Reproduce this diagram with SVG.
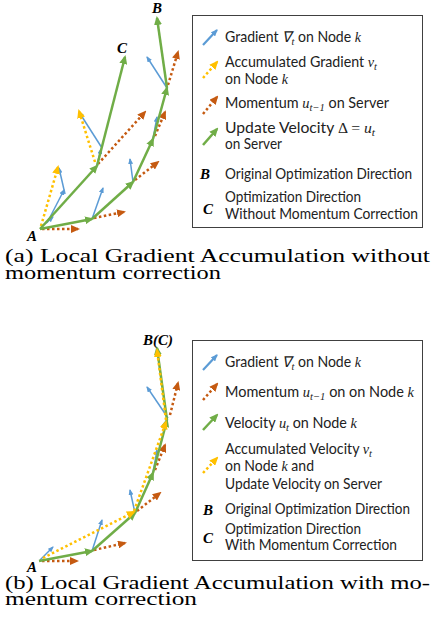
<svg xmlns="http://www.w3.org/2000/svg" width="434" height="635" viewBox="0 0 434 635">
<style>
.g{stroke:#70AD47;stroke-width:2.5;fill:none;marker-end:url(#mg)}
.o{stroke:#C55A11;stroke-width:2.5;fill:none;stroke-dasharray:2.5 2.5;marker-end:url(#mo)}
.y{stroke:#FFC000;stroke-width:2.5;fill:none;stroke-dasharray:2.5 2.5;marker-end:url(#my)}
.b{stroke:#5B9BD5;stroke-width:1.5;fill:none;marker-end:url(#mb)}
.bi{stroke:#5B9BD5;stroke-width:2.2;fill:none;marker-end:url(#mb2)}
.box{fill:#fff;stroke:#404040;stroke-width:1}
.lt{font-family:Lato,"Open Sans",sans-serif;font-size:15px;fill:#222}
.m{font-family:"Liberation Serif",serif;font-style:italic}
.mu{font-family:"Liberation Serif",serif}
.sub{font-family:"Liberation Serif",serif;font-style:italic;font-size:11px}
.pt{font-family:"Liberation Serif",serif;font-style:italic;font-weight:bold;font-size:15px;fill:#000}
.cap{font-family:"Liberation Serif",serif;font-size:18px;fill:#000}
</style>
<defs>
<marker id="mg" markerUnits="userSpaceOnUse" markerWidth="9" markerHeight="8" viewBox="0 0 9 8" refX="7" refY="4" orient="auto"><path d="M0,0 L9,4 L0,8 z" fill="#70AD47"/></marker>
<marker id="mo" markerUnits="userSpaceOnUse" markerWidth="9" markerHeight="8" viewBox="0 0 9 8" refX="7" refY="4" orient="auto"><path d="M0,0 L9,4 L0,8 z" fill="#C55A11"/></marker>
<marker id="my" markerUnits="userSpaceOnUse" markerWidth="9" markerHeight="8" viewBox="0 0 9 8" refX="7" refY="4" orient="auto"><path d="M0,0 L9,4 L0,8 z" fill="#FFC000"/></marker>
<marker id="mb" markerUnits="userSpaceOnUse" markerWidth="6" markerHeight="5" viewBox="0 0 6 5" refX="5" refY="2.5" orient="auto"><path d="M0,0 L6,2.5 L0,5 z" fill="#5B9BD5"/></marker>
<marker id="mb2" markerUnits="userSpaceOnUse" markerWidth="7" markerHeight="6" viewBox="0 0 7 6" refX="6" refY="3" orient="auto"><path d="M0,0 L7,3 L0,6 z" fill="#5B9BD5"/></marker>
</defs>
<rect width="434" height="635" fill="#fff"/>

<!-- ===== Diagram (a) ===== -->
<g id="connectors-a">
<line class="b" x1="45" y1="224" x2="53" y2="217"/>
<line class="b" x1="47" y1="223" x2="64" y2="190"/>
<line class="b" x1="65" y1="194" x2="59" y2="168"/>
<line class="b" x1="92" y1="219" x2="103" y2="188"/>
<line class="b" x1="97" y1="165" x2="101" y2="149"/>
<line class="b" x1="102" y1="148" x2="79" y2="112"/>
<line class="b" x1="133" y1="182" x2="130" y2="159"/>
<line class="b" x1="153" y1="139" x2="157" y2="117"/>
<line class="b" x1="167" y1="88" x2="147" y2="57"/>
<line class="y" x1="41" y1="226" x2="58" y2="167"/>
<line class="y" x1="95" y1="162" x2="79" y2="111"/>
<line class="o" x1="42" y1="229" x2="78" y2="229"/>
<line class="o" x1="94" y1="218" x2="124" y2="212"/>
<line class="o" x1="135" y1="180" x2="158" y2="162"/>
<line class="o" x1="155" y1="136" x2="165" y2="112"/>
<line class="o" x1="168" y1="85" x2="178" y2="52"/>
<line class="o" x1="98" y1="164" x2="145" y2="112"/>
<line class="g" x1="40" y1="229" x2="92" y2="219"/>
<line class="g" x1="92" y1="219" x2="133" y2="182"/>
<line class="g" x1="133" y1="182" x2="153" y2="139"/>
<line class="g" x1="153" y1="139" x2="167" y2="88"/>
<line class="g" x1="167" y1="88" x2="157" y2="18"/>
<line class="g" x1="40" y1="229" x2="97" y2="166"/>
<line class="g" x1="97" y1="166" x2="125" y2="57"/>
</g>
<g id="label-a-A"><text class="pt" x="32" y="241" text-anchor="middle">A</text></g>
<g id="label-a-B"><text class="pt" x="157" y="13" text-anchor="middle">B</text></g>
<g id="label-a-C"><text class="pt" x="122" y="53" text-anchor="middle">C</text></g>

<g id="legend-a">
<rect class="box" x="192.5" y="15.5" width="230" height="212"/>
<g id="legend-a-gradient">
<line class="bi" x1="203" y1="45" x2="217" y2="30"/>
<text class="lt" x="225" y="42" textLength="136" lengthAdjust="spacingAndGlyphs">Gradient <tspan class="m">∇</tspan><tspan class="sub" dy="3">t</tspan><tspan dy="-3"> on Node </tspan><tspan class="m">k</tspan></text>
</g>
<g id="legend-a-accum">
<line class="y" x1="203" y1="78" x2="217" y2="62"/>
<text class="lt" x="225" y="67" textLength="152" lengthAdjust="spacingAndGlyphs">Accumulated Gradient <tspan class="m">v</tspan><tspan class="sub" dy="3">t</tspan></text>
<text class="lt" x="225" y="83.5" textLength="63" lengthAdjust="spacingAndGlyphs">on Node <tspan class="m">k</tspan></text>
</g>
<g id="legend-a-momentum">
<line class="o" x1="203" y1="114" x2="217" y2="97"/>
<text class="lt" x="225" y="108" textLength="164" lengthAdjust="spacingAndGlyphs">Momentum <tspan class="m">u</tspan><tspan class="sub" dy="3">t−1</tspan><tspan dy="-3"> on Server</tspan></text>
</g>
<g id="legend-a-update">
<line class="g" x1="203" y1="145" x2="217" y2="129"/>
<text class="lt" x="225" y="132.5" textLength="150" lengthAdjust="spacingAndGlyphs">Update Velocity <tspan class="mu">Δ = </tspan><tspan class="m">u</tspan><tspan class="sub" dy="3">t</tspan></text>
<text class="lt" x="225" y="149" textLength="57" lengthAdjust="spacingAndGlyphs">on Server</text>
</g>
<g id="legend-a-B">
<text class="pt" x="205" y="178.5" text-anchor="middle">B</text>
<text class="lt" x="225" y="178.5" textLength="187" lengthAdjust="spacingAndGlyphs">Original Optimization Direction</text>
</g>
<g id="legend-a-C">
<text class="pt" x="208" y="214" text-anchor="middle">C</text>
<text class="lt" x="225" y="202" textLength="136" lengthAdjust="spacingAndGlyphs">Optimization Direction</text>
<text class="lt" x="225" y="219" textLength="193" lengthAdjust="spacingAndGlyphs">Without Momentum Correction</text>
</g>
</g>

<g id="caption-a">
<text class="cap" x="5" y="262" textLength="425" lengthAdjust="spacingAndGlyphs">(a) Local Gradient Accumulation without</text>
<text class="cap" x="5" y="278.5" textLength="216" lengthAdjust="spacingAndGlyphs">momentum correction</text>
</g>

<!-- ===== Diagram (b) ===== -->
<g id="connectors-b">
<line class="b" x1="40" y1="560" x2="53" y2="547"/>
<line class="b" x1="92" y1="551" x2="102" y2="520"/>
<line class="b" x1="135" y1="513" x2="130" y2="490"/>
<line class="b" x1="153" y1="473" x2="157" y2="450"/>
<line class="b" x1="168" y1="418" x2="147" y2="387"/>
<line class="o" x1="42" y1="561" x2="77" y2="561"/>
<line class="o" x1="94" y1="550" x2="125" y2="543"/>
<line class="o" x1="137" y1="511" x2="160" y2="493"/>
<line class="o" x1="155" y1="470" x2="165" y2="445"/>
<line class="o" x1="170" y1="415" x2="178" y2="383"/>
<line class="g" x1="39" y1="561" x2="92" y2="551"/>
<line class="g" x1="92" y1="551" x2="135" y2="513"/>
<line class="g" x1="135" y1="513" x2="153" y2="473"/>
<line class="g" x1="153" y1="473" x2="167" y2="420"/>
<line class="g" x1="167" y1="420" x2="157" y2="348"/>
<line class="y" x1="43" y1="558" x2="134" y2="512"/>
<line class="y" x1="134" y1="511" x2="166" y2="422"/>
<line class="y" x1="166" y1="420" x2="157" y2="350"/>
</g>
<g id="label-b-A"><text class="pt" x="32" y="572" text-anchor="middle">A</text></g>
<g id="label-b-BC"><text class="pt" x="158" y="345" text-anchor="middle">B(C)</text></g>

<g id="legend-b">
<rect class="box" x="192.5" y="340.5" width="230" height="220"/>
<g id="legend-b-gradient">
<line class="bi" x1="203" y1="370" x2="217" y2="355"/>
<text class="lt" x="225" y="367" textLength="136" lengthAdjust="spacingAndGlyphs">Gradient <tspan class="m">∇</tspan><tspan class="sub" dy="3">t</tspan><tspan dy="-3"> on Node </tspan><tspan class="m">k</tspan></text>
</g>
<g id="legend-b-momentum">
<line class="o" x1="203" y1="400" x2="217" y2="384"/>
<text class="lt" x="225" y="397" textLength="189" lengthAdjust="spacingAndGlyphs">Momentum <tspan class="m">u</tspan><tspan class="sub" dy="3">t−1</tspan><tspan dy="-3"> on on Node </tspan><tspan class="m">k</tspan></text>
</g>
<g id="legend-b-velocity">
<line class="g" x1="203" y1="430" x2="217" y2="415"/>
<text class="lt" x="225" y="427.5" textLength="132" lengthAdjust="spacingAndGlyphs">Velocity <tspan class="m">u</tspan><tspan class="sub" dy="3">t</tspan><tspan dy="-3"> on Node </tspan><tspan class="m">k</tspan></text>
</g>
<g id="legend-b-accum">
<line class="y" x1="203" y1="473" x2="217" y2="458"/>
<text class="lt" x="225" y="453.5" textLength="147" lengthAdjust="spacingAndGlyphs">Accumulated Velocity <tspan class="m">v</tspan><tspan class="sub" dy="3">t</tspan></text>
<text class="lt" x="225" y="471" textLength="89" lengthAdjust="spacingAndGlyphs">on Node <tspan class="m">k</tspan> and</text>
<text class="lt" x="225" y="488.5" textLength="157" lengthAdjust="spacingAndGlyphs">Update Velocity on Server</text>
</g>
<g id="legend-b-B">
<text class="pt" x="208" y="515" text-anchor="middle">B</text>
<text class="lt" x="225" y="513.5" textLength="185" lengthAdjust="spacingAndGlyphs">Original Optimization Direction</text>
</g>
<g id="legend-b-C">
<text class="pt" x="208" y="543" text-anchor="middle">C</text>
<text class="lt" x="225" y="533.5" textLength="136" lengthAdjust="spacingAndGlyphs">Optimization Direction</text>
<text class="lt" x="225" y="550" textLength="172" lengthAdjust="spacingAndGlyphs">With Momentum Correction</text>
</g>
</g>

<g id="caption-b">
<text class="cap" x="5" y="588.5" textLength="425" lengthAdjust="spacingAndGlyphs">(b) Local Gradient Accumulation with mo-</text>
<text class="cap" x="5" y="605" textLength="192" lengthAdjust="spacingAndGlyphs">mentum correction</text>
</g>
</svg>
